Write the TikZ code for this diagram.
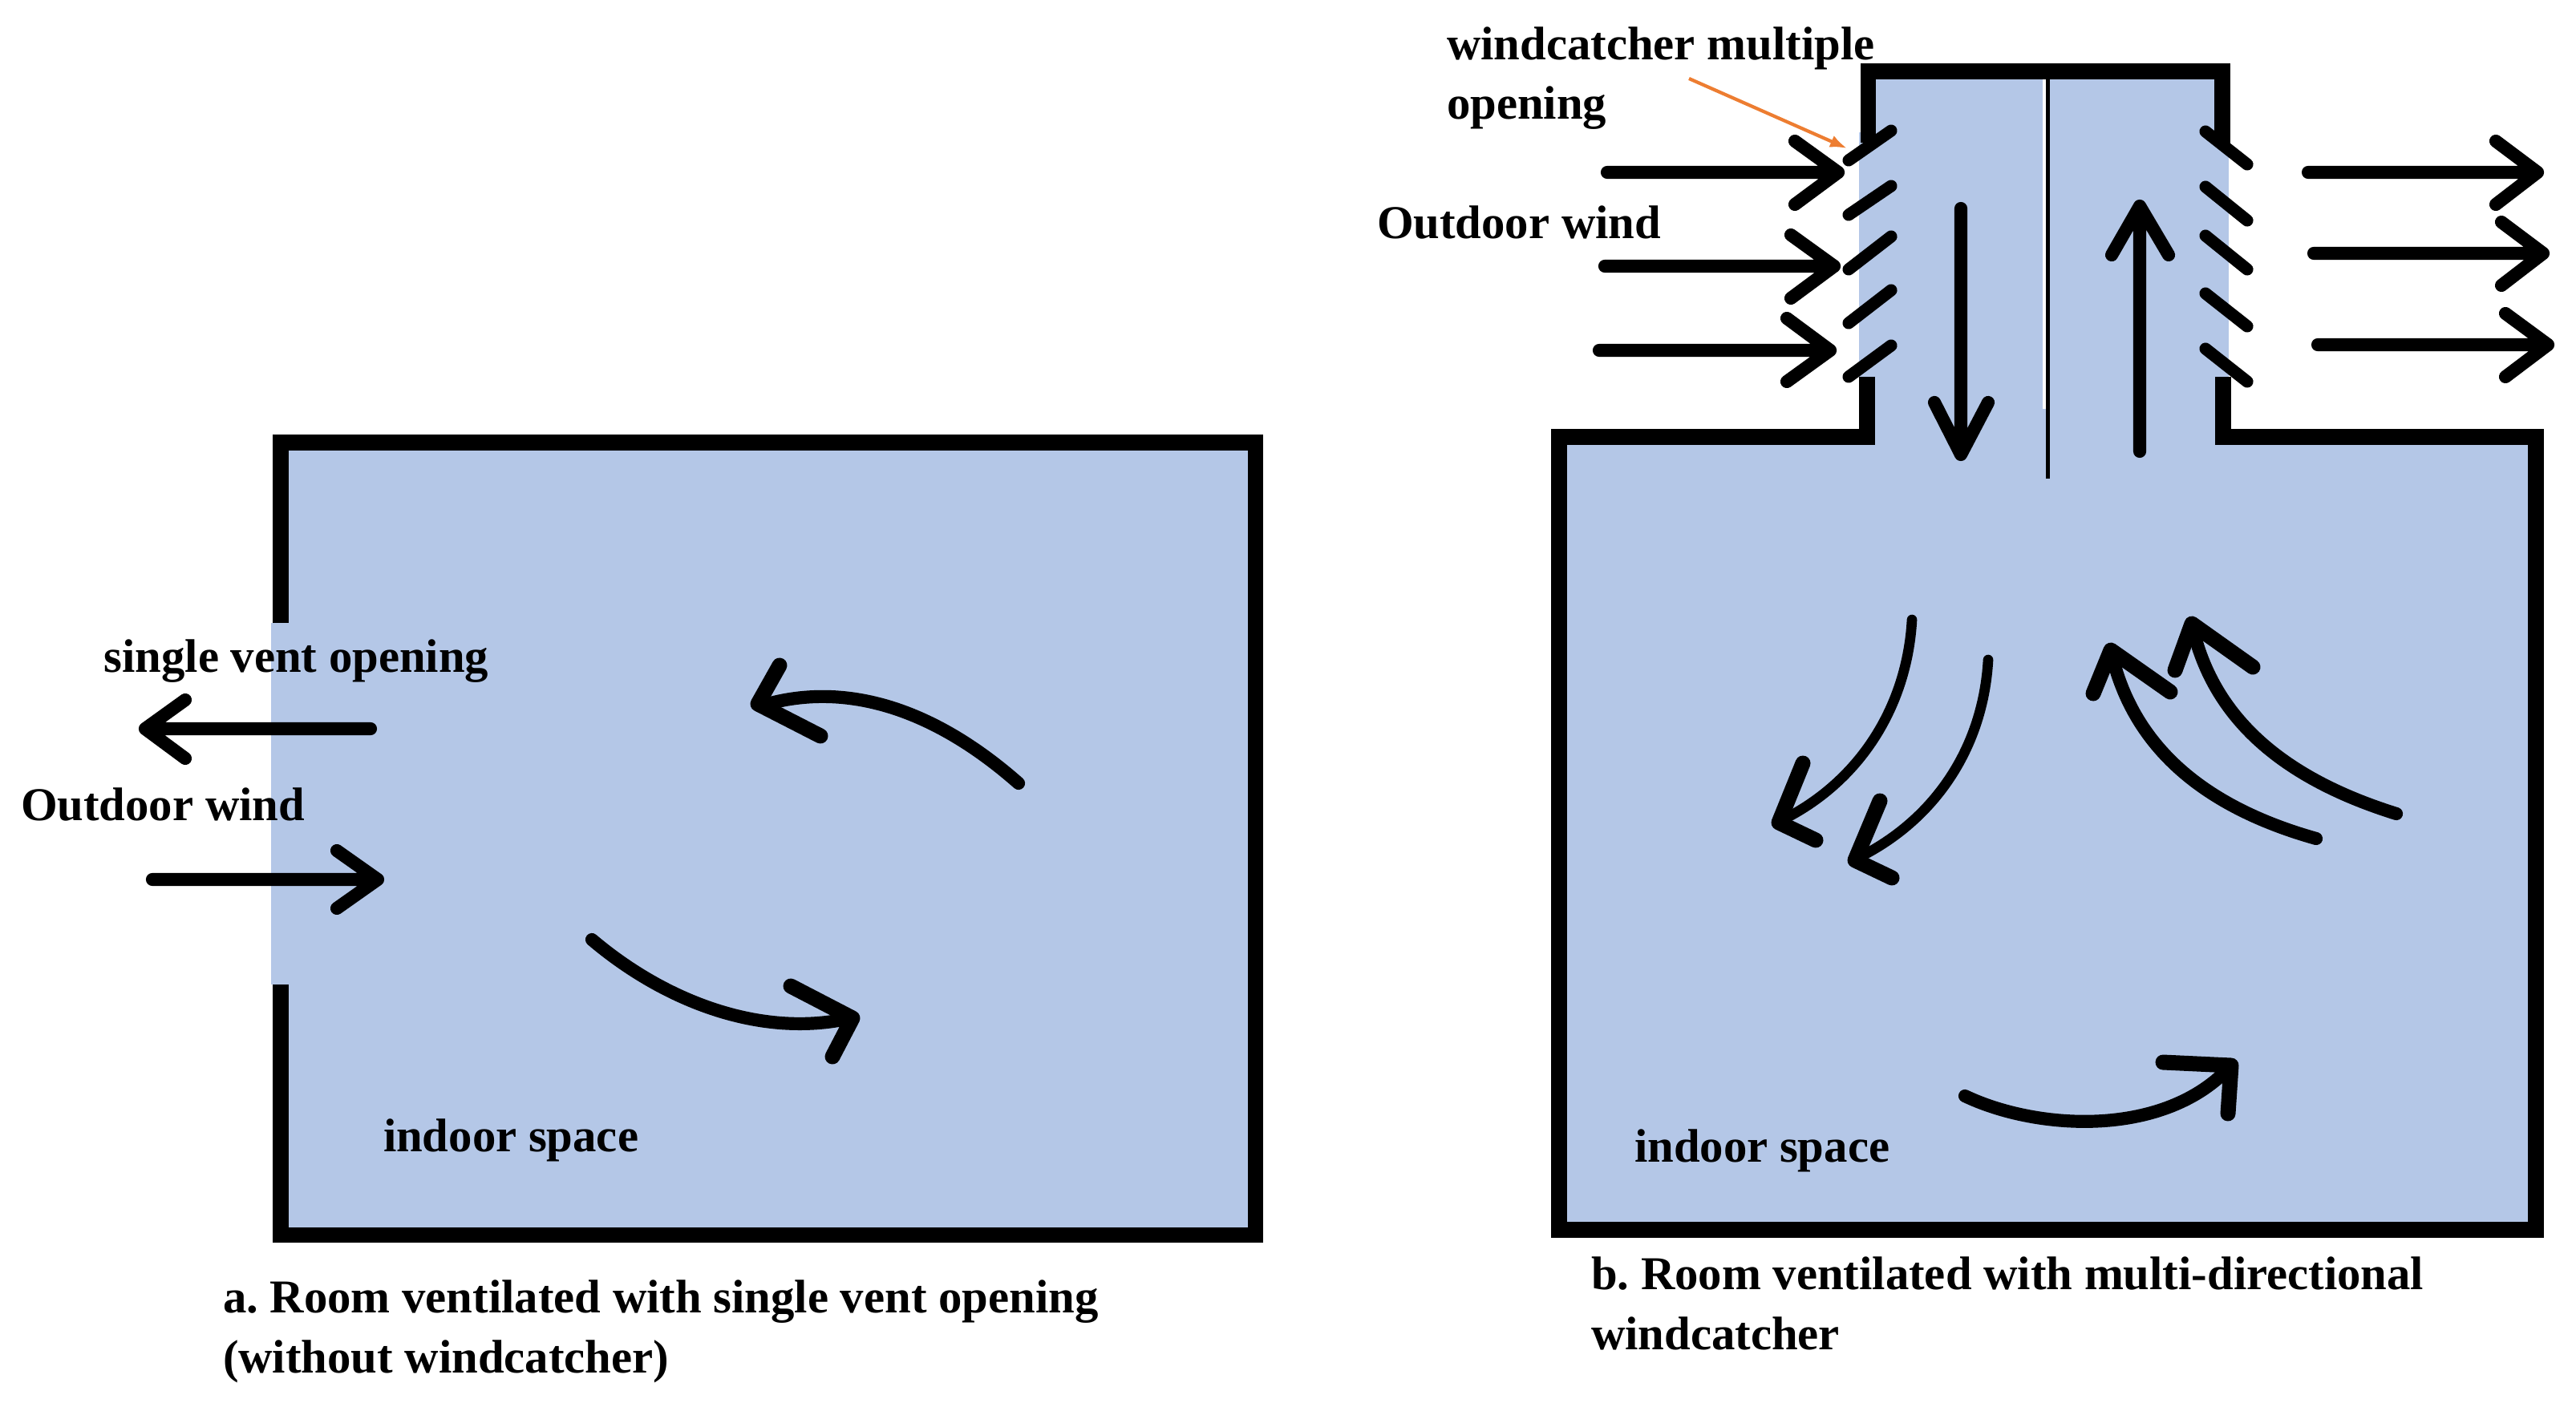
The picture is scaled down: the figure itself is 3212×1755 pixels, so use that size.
\documentclass[tikz,border=0pt]{standalone}
\usepackage{fontspec}
\setmainfont{Liberation Serif}
\usetikzlibrary{arrows.meta}
\definecolor{roomblue}{HTML}{B4C7E7}
\definecolor{pointer}{HTML}{ED7D31}
\newcommand{\windarrow}[5][wind]{\draw[#1] #2 -- #3 #4 -- #3 -- #5;}
\frenchspacing
\tikzset{
  wall/.style={line width=5.5pt,line join=miter,line cap=butt},
  wind/.style={line width=4.6pt,line cap=round,line join=round},
  head/.style={line width=5.4pt,line cap=round,line join=round},
  thinwind/.style={line width=3.6pt,line cap=round,line join=round},
  louvre/.style={line width=4.3pt,line cap=round},
  lbl/.style={inner sep=0pt,outer sep=0pt,anchor=base west,font=\fontsize{16.7}{16.7}\selectfont\bfseries},
  caption/.style={lbl,align=left,font=\fontsize{16.7}{21.3}\selectfont\bfseries}
}
\begin{document}
\begin{tikzpicture}[x=0.01cm,y=-0.01cm]
\useasboundingbox (0,0) rectangle (3212,1755);
% room a
\fill[roomblue] (350,552) rectangle (1565,1540);
\fill[roomblue] (337.5,777) rectangle (360,1228);
\draw[wall] (350,777) -- (350,552) -- (1565.5,552) -- (1565.5,1540.5) -- (350,1540.5) -- (350,1228);
% room b
\fill[roomblue] (1944,545) rectangle (3162,1534);
\fill[roomblue] (2328,89) rectangle (2771,546);
\fill[roomblue] (2318,165) rectangle (2779,470);
\draw[wall] (2329.5,178) -- (2329.5,89) -- (2771,89) -- (2771,180);
\draw[wall] (2328,470) -- (2328,545) -- (1944,545) -- (1944,1534) -- (3162,1534) -- (3162,545) -- (2772,545) -- (2772,470);
% central divider
\draw[line width=1.4pt] (2553.5,95) -- (2553.5,597);
\draw[white,line width=0.9pt] (2549,99) -- (2549,510);
% louvres
\foreach \a/\b in {200/163,268/232,336/295,403/362,470/431}
  \draw[louvre] (2305,\a) -- (2358,\b);
\foreach \a/\b in {164/205,233/275,294/336,366/407,435/476}
  \draw[louvre] (2750,\a) -- (2802,\b);
% room a arrows
\windarrow{(462,909)}{(181,909)}{(231,873)}{(231,946)}
\windarrow{(190,1097)}{(471,1097)}{(420,1061)}{(420,1133)}
\draw[wind] (1270,977) .. controls (1160,880) and (1050,850) .. (950,880);
\draw[head] (972,830) -- (945,878) -- (1023,918);
\draw[wind] (738,1172) .. controls (830,1250) and (950,1295) .. (1060,1270);
\draw[head] (986,1230) -- (1063,1270) -- (1038,1318);
% room b side arrows
\windarrow{(2004,215)}{(2292,215)}{(2238,176)}{(2238,255)}
\windarrow{(2001,332)}{(2287,332)}{(2233,293)}{(2233,372)}
\windarrow{(1994,437)}{(2282,437)}{(2228,397)}{(2228,476)}
\windarrow{(2878,215)}{(3164,215)}{(3112,176)}{(3112,255)}
\windarrow{(2885,316)}{(3171,316)}{(3119,277)}{(3119,356)}
\windarrow{(2890,430)}{(3177,430)}{(3124,391)}{(3124,470)}
% shaft arrows
\windarrow{(2445,260)}{(2445,567)}{(2412,502)}{(2479,502)}
\windarrow{(2668,563)}{(2668,257)}{(2633,318)}{(2704,318)}
% room b curved arrows
\draw[thinwind] (2384,773) .. controls (2378,880) and (2320,975) .. (2220,1024);
\draw[head] (2248,952) -- (2218,1026) -- (2264,1048);
\draw[thinwind] (2479,823) .. controls (2473,930) and (2415,1022) .. (2315,1071);
\draw[head] (2344,999) -- (2313,1073) -- (2359,1095);
\draw[wind] (2888,1046) .. controls (2760,1010) and (2660,940) .. (2632,811);
\draw[head] (2610,865) -- (2632,811) -- (2706,863);
\draw[wind] (2988,1015) .. controls (2860,975) and (2760,905) .. (2733,778);
\draw[head] (2712,836) -- (2733,778) -- (2809,832);
\draw[wind] (2450,1367) .. controls (2540,1410) and (2700,1420) .. (2782,1329);
\draw[head] (2697,1325) -- (2782,1329) -- (2778,1389);
% labels
\node[lbl] (vent) at (129.5,838) {single vent opening};
\node[lbl] (winda) at (26,1023) {Outdoor wind};
\node[lbl] (indoora) at (478,1436) {indoor space};
\node[caption] (capa) at (278,1712) {a. Room ventilated with single vent opening\\(without windcatcher)};
\node[lbl] (indoorb) at (2038,1449) {indoor space};
\node[caption] (capb) at (1984,1683) {b. Room ventilated with multi-directional\\windcatcher};
\node[caption] (catcher) at (1804,149) {windcatcher multiple\\opening};
\node[lbl] (windb) at (1717,298) {Outdoor wind};
% pointer
\coordinate (ptail) at (2106,98);
\coordinate (ptip) at (2303,185);
\draw[pointer,line width=1.2pt,-{Latex[length=6pt,width=4.5pt]}] (ptail) -- (ptip);
\end{tikzpicture}
\end{document}
